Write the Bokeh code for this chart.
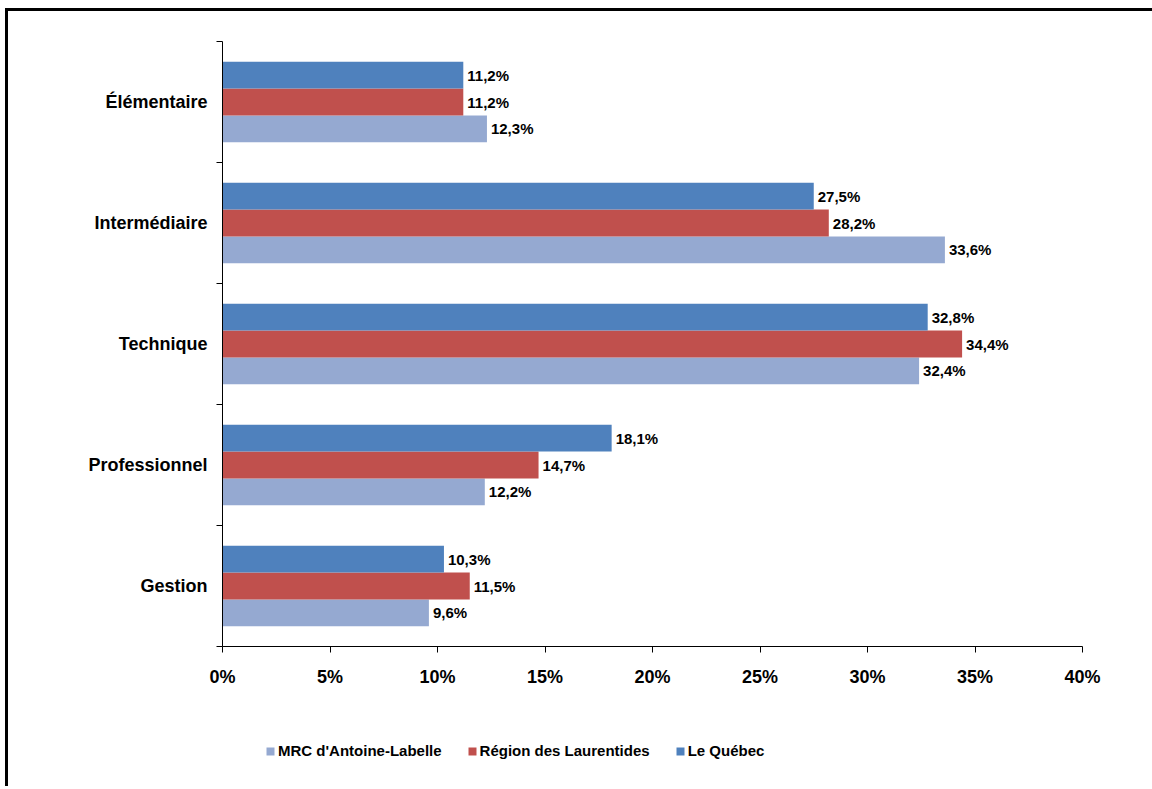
from bokeh.plotting import figure
from bokeh.layouts import column
from bokeh.models import (ColumnDataSource, Range1d, LinearAxis, FixedTicker, PrintfTickFormatter,
                          CustomJSTickFormatter, LabelSet, Legend, LegendItem)
from bokeh.core.properties import value
from bokeh.transform import dodge
from bokeh.embed import file_html
from bokeh.resources import INLINE

categories = ["Gestion", "Professionnel", "Technique", "Intermédiaire", "Élémentaire"]
series_names = ["MRC d'Antoine-Labelle", "Région des Laurentides", "Le Québec"]
mrc = [9.6, 12.2, 32.4, 33.6, 12.3]
region = [11.5, 14.7, 34.4, 28.2, 11.2]
quebec = [10.3, 18.1, 32.8, 27.5, 11.2]
x_ticks = [0, 5, 10, 15, 20, 25, 30, 35, 40]

colors = ["#95A9D1", "#C0504D", "#4F81BD"]
offsets = [-0.222, 0.0, 0.222]
FONT = "Liberation Sans"

n = len(categories)
centers = [i + 0.5 for i in range(n)]

p = figure(width=1144, height=680, y_range=Range1d(0, n), x_range=Range1d(0, 40),
           output_backend="svg", toolbar_location=None, y_axis_location=None,
           min_border_left=214, min_border_right=70, min_border_top=30, min_border_bottom=45)
p.outline_line_color = None
p.xgrid.grid_line_color = None
p.ygrid.grid_line_color = None
p.background_fill_color = "white"
p.border_fill_color = "white"

# x axis
p.xaxis.ticker = FixedTicker(ticks=x_ticks)
p.xaxis.formatter = PrintfTickFormatter(format="%d%%")
p.xaxis.major_tick_in = 0
p.xaxis.major_tick_out = 6
p.xaxis.minor_tick_line_color = None
p.xaxis.axis_line_color = "black"
p.xaxis.major_tick_line_color = "black"
p.xaxis.major_label_text_font = FONT
p.xaxis.major_label_text_font_style = "bold"
p.xaxis.major_label_text_font_size = "18px"
p.xaxis.major_label_text_color = "black"
p.xaxis.major_label_standoff = 14

# y axis: boundary ticks (no labels) + category labels at centres (no ticks)
tick_axis = LinearAxis(ticker=FixedTicker(ticks=list(range(n + 1))),
                       formatter=CustomJSTickFormatter(code="return ''"),
                       major_tick_in=0, major_tick_out=6, minor_tick_line_color=None,
                       major_label_standoff=0,
                       axis_line_color="black", major_tick_line_color="black")
p.add_layout(tick_axis, "left")
cat_axis = LinearAxis(ticker=FixedTicker(ticks=centers),
                      major_label_overrides={c: name for c, name in zip(centers, categories)},
                      axis_line_color=None, major_tick_line_color=None, minor_tick_line_color=None,
                      major_tick_in=0, major_tick_out=0,
                      major_label_text_font=FONT, major_label_text_font_style="bold",
                      major_label_text_font_size="18px", major_label_text_color="black",
                      major_label_standoff=9)
p.add_layout(cat_axis, "left")

data_series = [mrc, region, quebec]
for name, vals, col, off in zip(series_names, data_series, colors, offsets):
    src = ColumnDataSource(dict(pos=centers, val=vals,
                                txt=[("%.1f%%" % v).replace(".", ",") for v in vals]))
    p.hbar(y=dodge("pos", off), right="val", left=0, height=0.222,
           source=src, fill_color=col, line_color=None)
    lbl = LabelSet(x="val", y=dodge("pos", off), text="txt", source=src,
                   x_offset=4, text_baseline="middle", text_align="left",
                   text_font=value(FONT), text_font_style="bold", text_font_size="15px",
                   text_color="black")
    p.add_layout(lbl)

# legend strip below the chart (frames of the column are aligned with the chart's frame)
lg = figure(width=1144, height=95, x_range=Range1d(0, 1), y_range=Range1d(0, 1),
            output_backend="svg", toolbar_location=None, x_axis_location=None, y_axis_location=None,
            min_border_left=0, min_border_right=0, min_border_top=0, min_border_bottom=0)
lg.outline_line_color = None
lg.xgrid.grid_line_color = None
lg.ygrid.grid_line_color = None
lg.border_fill_color = "white"
items = []
for name, col in zip(series_names, colors):
    r = lg.hbar(y=[-5], right=[-5], left=-6, height=0.1, fill_color=col, line_color=None)
    items.append(LegendItem(label=name, renderers=[r]))
legend = Legend(items=items, orientation="horizontal", location=(43, 27), padding=0, margin=0,
                spacing=25, glyph_width=10, glyph_height=10, label_standoff=3,
                label_text_font=FONT, label_text_font_style="bold", label_text_font_size="15px",
                label_text_color="black",
                border_line_color=None, background_fill_alpha=0)
lg.add_layout(legend, "center")

layout = column(p, lg, spacing=0)
layout.styles = {"border-left": "3px solid black", "border-top": "3px solid black",
                 "margin-left": "5px", "margin-top": "8px"}

open("out.html", "w").write(file_html(layout, INLINE))
